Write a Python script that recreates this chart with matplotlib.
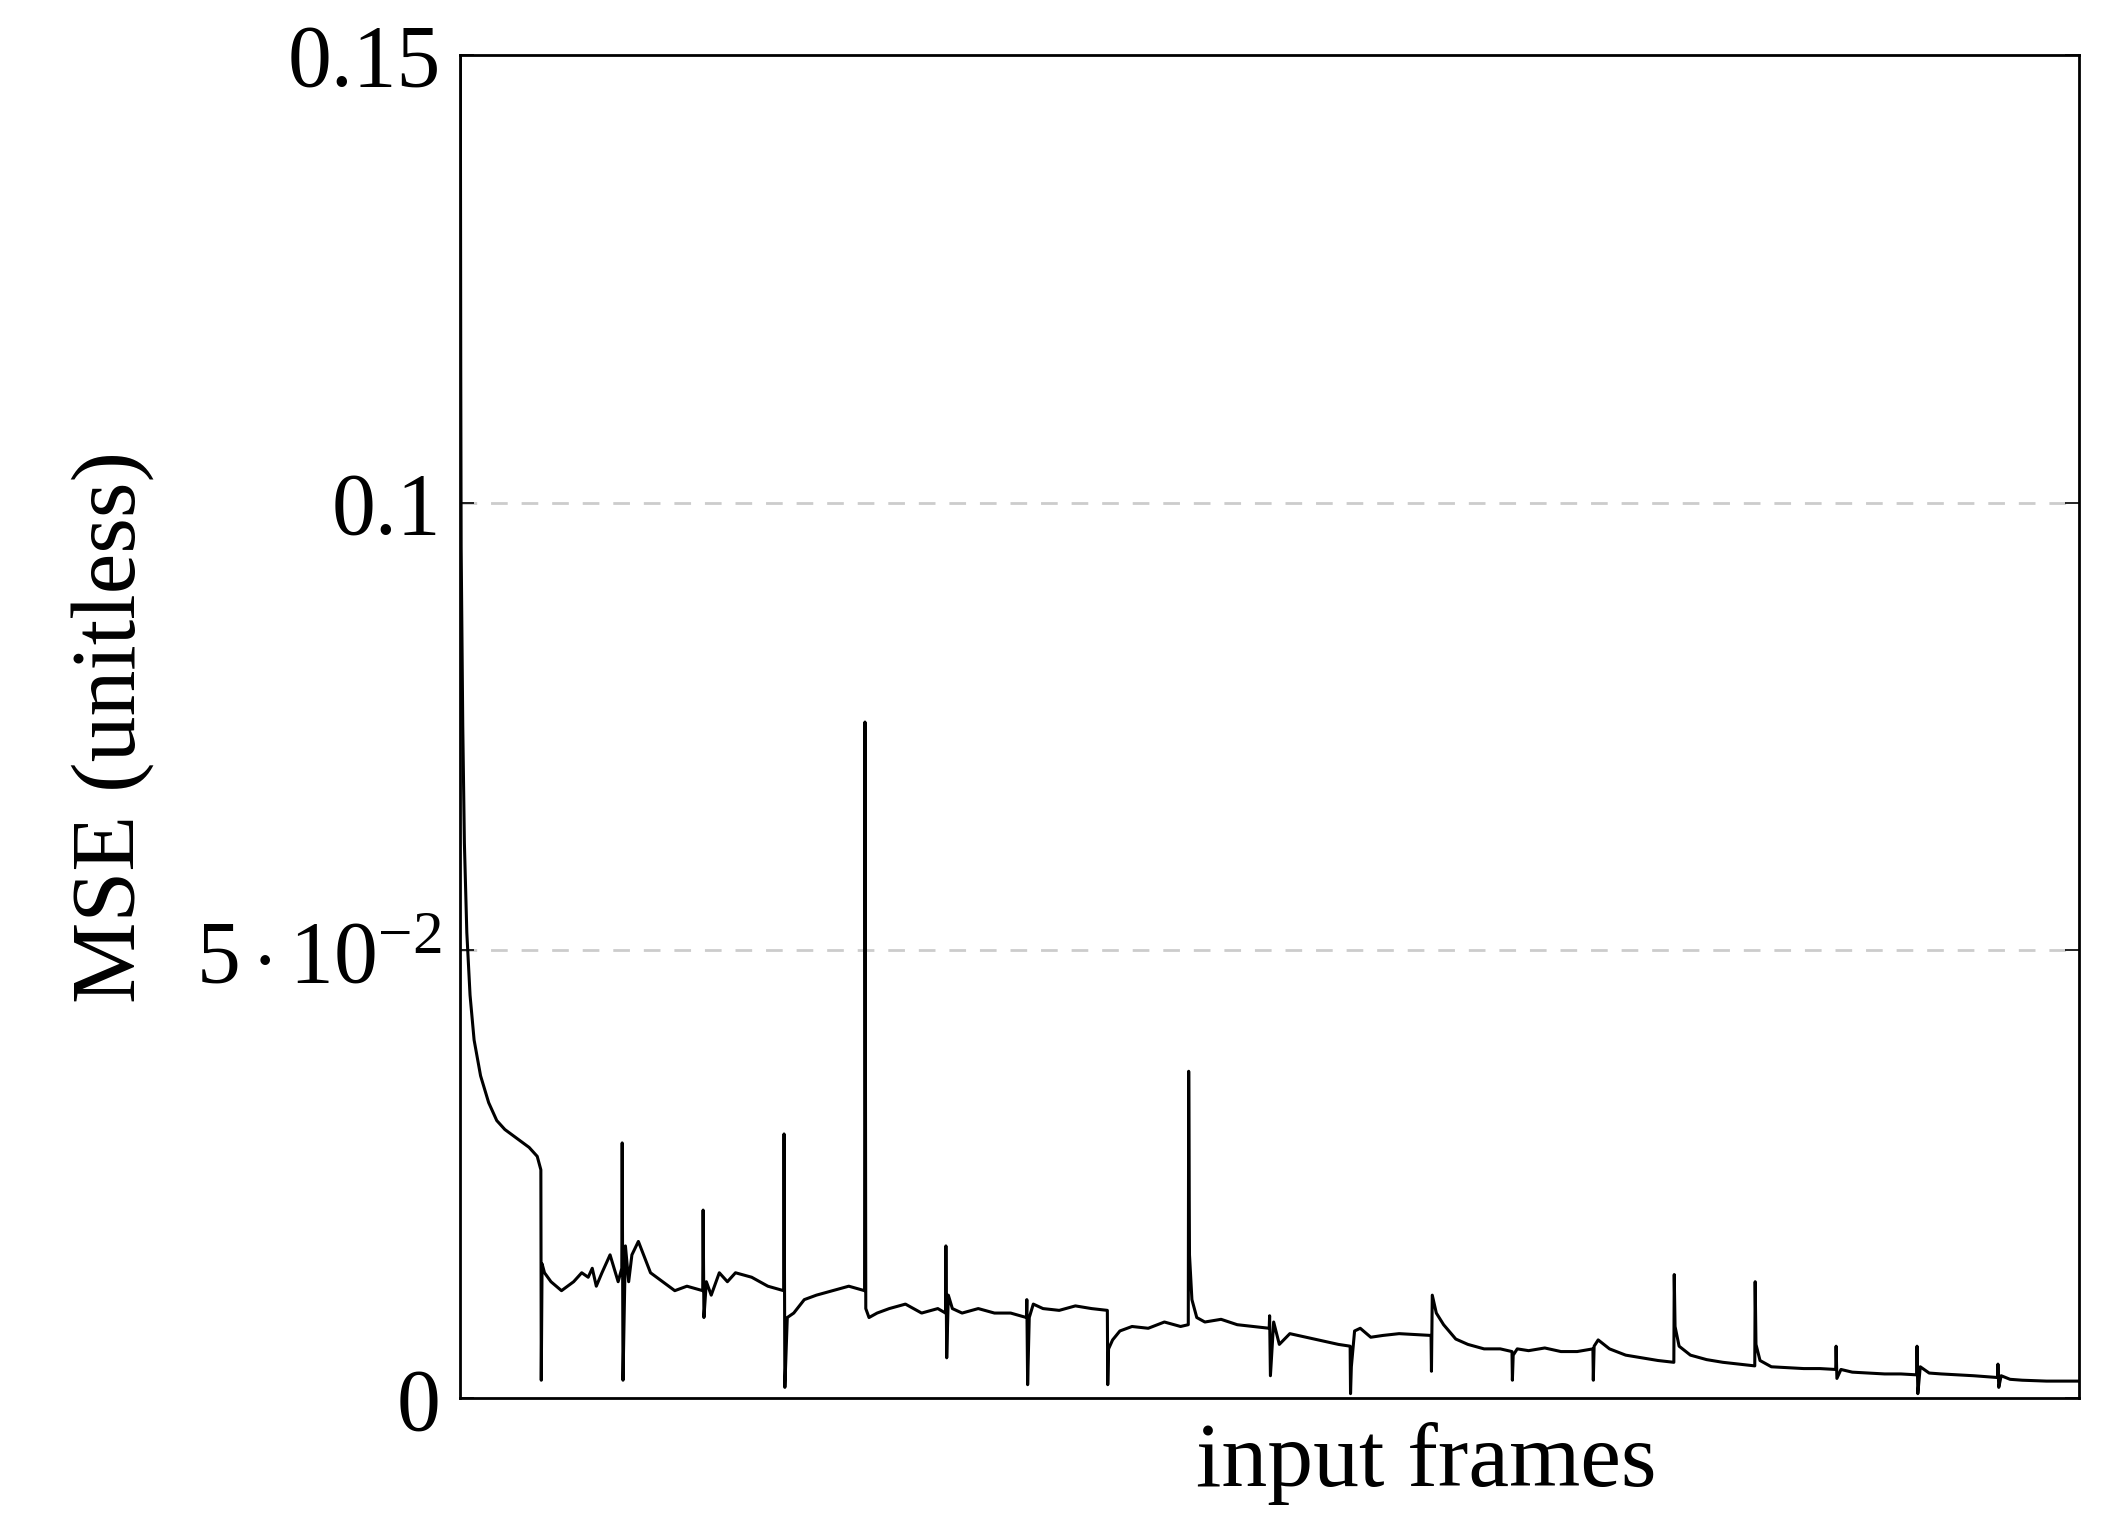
import matplotlib.pyplot as plt

plt.rcParams["font.family"] = ["Liberation Serif", "DejaVu Serif"]
plt.rcParams["mathtext.fontset"] = "custom"
plt.rcParams["mathtext.rm"] = "Liberation Serif"
plt.rcParams["mathtext.it"] = "Liberation Serif:italic"

# MSE per input frame (key points, segments of 100 frames)
frames = [
    0, 0.5, 1, 3, 5, 8, 12, 17, 25, 35, 45, 55, 70, 85, 95, 99.5,
    100, 101, 104, 112, 125, 140, 150, 158, 163, 168, 175, 185, 195, 199.5,
    200, 201, 204, 208, 212, 220, 235, 250, 265, 280, 299.5,
    300, 301, 304, 310, 320, 330, 340, 360, 380, 399.5,
    400, 401, 404, 412, 425, 440, 460, 480, 499.5,
    500, 501, 505, 515, 530, 550, 570, 590, 599.5,
    600, 601, 603, 608, 620, 640, 660, 680, 699.5,
    700, 701, 703, 708, 720, 740, 760, 780, 799.5,
    800, 801, 806, 815, 830, 850, 870, 890, 899.5,
    900, 901, 904, 910, 920, 940, 960, 980, 999.5,
    1000, 1001, 1005, 1012, 1025, 1045, 1065, 1085, 1099.5,
    1100, 1101, 1105, 1112, 1125, 1140, 1160, 1180, 1199.5,
    1200, 1201, 1206, 1215, 1230, 1245, 1265, 1285, 1299.5,
    1300, 1301, 1306, 1320, 1340, 1360, 1380, 1399.5,
    1400, 1401, 1406, 1420, 1440, 1460, 1480, 1499.5,
    1500, 1501, 1506, 1520, 1540, 1560, 1580, 1599.5,
    1600, 1601, 1606, 1620, 1640, 1660, 1680, 1699.5,
    1700, 1701, 1706, 1720, 1740, 1760, 1780, 1799.5,
    1800, 1801, 1804, 1815, 1830, 1850, 1870, 1899.5,
    1900, 1901, 1904, 1915, 1930, 1960, 1990, 2000,
]
mse = [
    0.150, 0.115, 0.095, 0.075, 0.062, 0.052, 0.045, 0.040, 0.036, 0.033, 0.031, 0.030, 0.029, 0.028, 0.027, 0.0255,
    0.002, 0.015, 0.014, 0.013, 0.012, 0.013, 0.014, 0.0135, 0.0145, 0.0125, 0.014, 0.016, 0.013, 0.0145,
    0.0285, 0.002, 0.017, 0.013, 0.016, 0.0175, 0.014, 0.013, 0.012, 0.0125, 0.012,
    0.021, 0.009, 0.013, 0.0115, 0.014, 0.013, 0.014, 0.0135, 0.0125, 0.012,
    0.0295, 0.0012, 0.009, 0.0095, 0.011, 0.0115, 0.012, 0.0125, 0.012,
    0.0755, 0.010, 0.009, 0.0095, 0.010, 0.0105, 0.0095, 0.010, 0.0095,
    0.017, 0.0045, 0.0115, 0.010, 0.0095, 0.010, 0.0095, 0.0095, 0.009,
    0.011, 0.0015, 0.009, 0.0105, 0.010, 0.0098, 0.0103, 0.010, 0.0098,
    0.0015, 0.0055, 0.0065, 0.0075, 0.008, 0.0078, 0.0085, 0.008, 0.0082,
    0.0365, 0.016, 0.011, 0.009, 0.0085, 0.0088, 0.0082, 0.008, 0.0078,
    0.0092, 0.0025, 0.0085, 0.006, 0.0072, 0.0068, 0.0064, 0.006, 0.0058,
    0.0005, 0.0035, 0.0075, 0.0078, 0.0068, 0.007, 0.0072, 0.0071, 0.007,
    0.003, 0.0115, 0.0095, 0.0082, 0.0066, 0.0060, 0.0055, 0.0055, 0.0052,
    0.002, 0.0048, 0.0055, 0.0053, 0.0056, 0.0052, 0.0052, 0.0055,
    0.002, 0.0058, 0.0065, 0.0055, 0.0048, 0.0045, 0.0042, 0.004,
    0.0138, 0.008, 0.0058, 0.0048, 0.0043, 0.004, 0.0038, 0.0036,
    0.013, 0.006, 0.0042, 0.0035, 0.0034, 0.0033, 0.0033, 0.0032,
    0.0058, 0.0022, 0.0032, 0.0029, 0.0028, 0.0027, 0.0027, 0.0026,
    0.0058, 0.0005, 0.0035, 0.0028, 0.0027, 0.0026, 0.0025, 0.0023,
    0.0038, 0.0012, 0.0025, 0.0021, 0.0020, 0.0019, 0.0019, 0.0019,
]

y_ticks = [0, 0.05, 0.1, 0.15]
y_labels = ["0", r"$5\cdot10^{-2}$", "0.1", "0.15"]

fig = plt.figure(figsize=(21.02, 15.28), dpi=100)
ax = fig.add_axes([0.219, 0.085, 0.77, 0.879])
ax.plot(frames, mse, color="black", linewidth=2.2)

ax.set_xlim(0, 2000)
ax.set_ylim(0, 0.15)
ax.set_xticks([])
ax.set_yticks(y_ticks)
ax.set_yticklabels(y_labels, fontsize=63)
ax.tick_params(axis="y", direction="in", length=10, width=1.2, right=True, pad=14)
for v in [0.05, 0.1]:
    ax.axhline(v, color="#cccccc", linestyle=(0, (6, 5)), linewidth=2, zorder=0)
for s in ax.spines.values():
    s.set_linewidth(2)

ax.set_xlabel("input frames", fontsize=66)
ax.xaxis.set_label_coords(0.597, -0.018, transform=ax.transAxes)
ax.xaxis.label.set_va("top")
ax.set_ylabel("MSE (unitless)", fontsize=66, labelpad=30)

fig.savefig("out.png", dpi=100)
